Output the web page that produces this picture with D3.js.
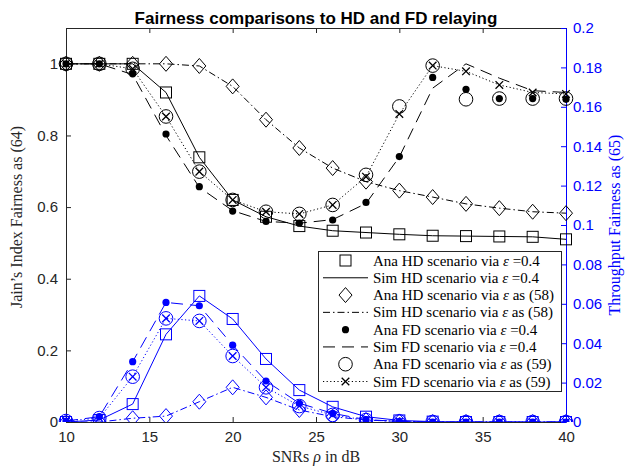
<!DOCTYPE html>
<html>
<head>
<meta charset="utf-8">
<script src="https://cdn.jsdelivr.net/npm/d3@7"></script>
<style>
  html, body { margin: 0; padding: 0; background: #fff; }
  svg { display: block; }
</style>
</head>
<body>
<svg id="chart" width="635" height="470"></svg>
<script>
// SNR grid (dB)
const snr = [10, 12, 14, 16, 18, 20, 22, 24, 26, 28, 30, 32, 34, 36, 38, 40];

// Jain's index fairness (left axis)
const jainHdAna04 = [1, 1, 1, 0.92, 0.739, 0.62, 0.573, 0.547, 0.534, 0.529, 0.524, 0.52, 0.519, 0.518, 0.517, 0.51];
const jainHdSim04 = [1, 1, 1, 0.92, 0.739, 0.62, 0.573, 0.547, 0.534, 0.529, 0.524, 0.52, 0.519, 0.518, 0.517, 0.51];
const jainHdAna58 = [1, 1, 1, 1, 0.994, 0.937, 0.844, 0.765, 0.709, 0.671, 0.646, 0.628, 0.609, 0.597, 0.587, 0.583];
const jainHdSim58 = [1, 1, 1, 1, 0.994, 0.937, 0.844, 0.765, 0.709, 0.671, 0.646, 0.628, 0.609, 0.597, 0.587, 0.583];
const jainFdAna04 = [1, 1, 0.972, 0.804, 0.657, 0.589, 0.56, 0.555, 0.564, 0.613, 0.741, 0.962, 0.929, 0.903, 0.903, 0.901];
const jainFdSim04 = [1, 1, 0.97, 0.8, 0.655, 0.59, 0.56, 0.555, 0.565, 0.61, 0.74, 0.932, 1.0, 0.96, 0.925, 0.92];
const jainFdAna59 = [1, 1, 0.986, 0.853, 0.699, 0.62, 0.587, 0.581, 0.606, 0.69, 0.881, 0.995, 0.901, 0.903, 0.903, 0.903];
const jainFdSim59 = [1, 1, 0.986, 0.853, 0.699, 0.62, 0.587, 0.581, 0.606, 0.685, 0.86, 0.995, 0.979, 0.941, 0.92, 0.916];

// Throughput fairness (right axis)
const thrHdAna04 = [0, 0.001, 0.0091, 0.0445, 0.064, 0.0523, 0.032, 0.0162, 0.0077, 0.0027, 0.0008, 0.0002, 0, 0, 0, 0];
const thrHdSim04 = [0, 0.001, 0.0091, 0.0445, 0.064, 0.0523, 0.032, 0.0162, 0.0077, 0.0027, 0.0008, 0.0002, 0, 0, 0, 0];
const thrHdAna58 = [0, 0, 0.0019, 0.003, 0.0103, 0.0176, 0.0125, 0.0061, 0.0027, 0.001, 0.0003, 0, 0, 0, 0, 0];
const thrHdSim58 = [0, 0, 0.0019, 0.003, 0.0103, 0.0176, 0.0125, 0.0061, 0.0027, 0.001, 0.0003, 0, 0, 0, 0, 0];
const thrFdAna04 = [0.0005, 0.0027, 0.0306, 0.0607, 0.059, 0.039, 0.0208, 0.0095, 0.0044, 0.0012, 0.0003, 0, 0, 0, 0, 0];
const thrFdSim04 = [0.0005, 0.0027, 0.0306, 0.0607, 0.059, 0.039, 0.0208, 0.0095, 0.0044, 0.0012, 0.0003, 0, 0, 0, 0, 0];
const thrFdAna59 = [0.0005, 0.002, 0.023, 0.0526, 0.0513, 0.0335, 0.0176, 0.0081, 0.0036, 0.001, 0.0003, 0, 0, 0, 0, 0];
const thrFdSim59 = [0.0005, 0.002, 0.023, 0.0526, 0.0513, 0.0335, 0.0176, 0.0081, 0.0036, 0.001, 0.0003, 0, 0, 0, 0, 0];

// Tick values
const xTicks = [10, 15, 20, 25, 30, 35, 40];
const yLeftTicks = [0, 0.2, 0.4, 0.6, 0.8, 1];
const yRightTicks = [0, 0.02, 0.04, 0.06, 0.08, 0.1, 0.12, 0.14, 0.16, 0.18, 0.2];

// Legend entries
const legendLabels = [
  "Ana HD scenario via \u03B5 =0.4",
  "Sim HD scenario via \u03B5 =0.4",
  "Ana HD scenario via \u03B5 as (58)",
  "Sim HD scenario via \u03B5 as (58)",
  "Ana FD scenario via \u03B5 =0.4",
  "Sim FD scenario via \u03B5 =0.4",
  "Ana FD scenario via \u03B5 as (59)",
  "Sim FD scenario via \u03B5 as (59)"
];

const BLUE = "#0000ff";
const INK = "#262626";
const DASH = "12,7";
const DASHDOT = "7,3,1.5,3";
const DOT = "1.2,2.4";

const svg = d3.select("#chart");
const L = 66, R = 566, T = 28, B = 422;

const x = d3.scaleLinear().domain([10, 40]).range([L, R]);
const yL = d3.scaleLinear().domain([0, 1.1]).range([B, T]);
const yR = d3.scaleLinear().domain([0, 0.2]).range([B, T]);

const fmt = d => String(+d.toFixed(2));

svg.append("defs").append("clipPath").attr("id", "clipBottom")
  .append("rect").attr("x", 0).attr("y", 0).attr("width", 635).attr("height", B);

// Title
svg.append("text")
  .attr("x", 316).attr("y", 24)
  .attr("text-anchor", "middle")
  .attr("font-family", "Liberation Sans, Arial, sans-serif")
  .attr("font-weight", "bold")
  .attr("font-size", 17)
  .attr("fill", "#000")
  .text("Fairness comparisons to HD and FD relaying");

// Axes
const tickFont = g => g.selectAll("text")
  .attr("font-family", "Liberation Sans, Arial, sans-serif")
  .attr("font-size", 15);

const gx = svg.append("g").attr("transform", `translate(0,${B})`)
  .call(d3.axisBottom(x).tickValues(xTicks).tickSize(-5).tickPadding(9).tickSizeOuter(0));
gx.call(tickFont);
gx.selectAll("text").attr("fill", INK);
gx.selectAll("line").attr("stroke", INK);
gx.select(".domain").attr("stroke", INK);

const gxTop = svg.append("g").attr("transform", `translate(0,${T})`)
  .call(d3.axisTop(x).tickValues(xTicks).tickSize(-5).tickFormat("").tickSizeOuter(0));
gxTop.selectAll("line").attr("stroke", INK);
gxTop.select(".domain").attr("stroke", INK);

const gyL = svg.append("g").attr("transform", `translate(${L},0)`)
  .call(d3.axisLeft(yL).tickValues(yLeftTicks).tickFormat(fmt).tickSize(-5).tickPadding(8).tickSizeOuter(0));
gyL.call(tickFont);
gyL.selectAll("text").attr("fill", INK);
gyL.selectAll("line").attr("stroke", INK);
gyL.select(".domain").attr("stroke", INK);

const gyR = svg.append("g").attr("transform", `translate(${R},0)`)
  .call(d3.axisRight(yR).tickValues(yRightTicks).tickFormat(fmt).tickSize(-5).tickPadding(7).tickSizeOuter(0));
gyR.call(tickFont);
gyR.selectAll("text").attr("fill", BLUE);
gyR.selectAll("line").attr("stroke", BLUE);
gyR.select(".domain").attr("stroke", BLUE);

// Axis labels
svg.append("text")
  .attr("transform", `translate(22,${(T + B) / 2 - 8}) rotate(-90)`)
  .attr("text-anchor", "middle")
  .attr("font-family", "Liberation Serif, Times New Roman, serif")
  .attr("font-size", 16)
  .attr("fill", INK)
  .text("Jain\u2019s Index Fairness as (64)");

svg.append("text")
  .attr("transform", `translate(620,${(T + B) / 2}) rotate(-90)`)
  .attr("text-anchor", "middle")
  .attr("font-family", "Liberation Serif, Times New Roman, serif")
  .attr("font-size", 16)
  .attr("fill", BLUE)
  .text("Throughput Fairness as (65)");

const xl = svg.append("text")
  .attr("x", 316).attr("y", 462)
  .attr("text-anchor", "middle")
  .attr("font-family", "Liberation Serif, Times New Roman, serif")
  .attr("font-size", 16)
  .attr("fill", INK);
xl.append("tspan").text("SNRs ");
xl.append("tspan").attr("font-style", "italic").text("\u03C1");
xl.append("tspan").text(" in dB");

// Marker painters
function drawMarker(g, kind, cx, cy, color) {
  if (kind === "square") {
    g.append("rect").attr("x", cx - 5.5).attr("y", cy - 5.5).attr("width", 11).attr("height", 11)
      .attr("fill", "none").attr("stroke", color).attr("stroke-width", 1);
  } else if (kind === "diamond") {
    g.append("path").attr("d", `M${cx},${cy - 7.5}L${cx + 6.5},${cy}L${cx},${cy + 7.5}L${cx - 6.5},${cy}Z`)
      .attr("fill", "none").attr("stroke", color).attr("stroke-width", 1);
  } else if (kind === "dot") {
    g.append("circle").attr("cx", cx).attr("cy", cy).attr("r", 3.6).attr("fill", color);
  } else if (kind === "circle") {
    g.append("circle").attr("cx", cx).attr("cy", cy).attr("r", 6.8)
      .attr("fill", "none").attr("stroke", color).attr("stroke-width", 1);
  } else if (kind === "cross") {
    const s = 3.8;
    g.append("path").attr("d", `M${cx - s},${cy - s}L${cx + s},${cy + s}M${cx - s},${cy + s}L${cx + s},${cy - s}`)
      .attr("stroke", color).attr("stroke-width", 1.3).attr("fill", "none");
  }
}

function series(values, yScale, color, opts) {
  const g = svg.append("g");
  if (opts.clip) g.attr("clip-path", "url(#clipBottom)");
  const pts = snr.map((s, i) => [x(s), yScale(values[i])]);
  if (opts.dash !== undefined) {
    g.append("path")
      .attr("d", d3.line()(pts))
      .attr("fill", "none").attr("stroke", color).attr("stroke-width", 1)
      .attr("stroke-dasharray", opts.dash || null);
  }
  if (opts.marker) pts.forEach(p => drawMarker(g, opts.marker, p[0], p[1], color));
}

// Jain's index curves (black, left axis)
series(jainHdAna04, yL, "#000", { marker: "square" });
series(jainHdSim04, yL, "#000", { dash: "" });
series(jainHdAna58, yL, "#000", { marker: "diamond" });
series(jainHdSim58, yL, "#000", { dash: DASHDOT });
series(jainFdAna04, yL, "#000", { marker: "dot" });
series(jainFdSim04, yL, "#000", { dash: DASH });
series(jainFdAna59, yL, "#000", { marker: "circle" });
series(jainFdSim59, yL, "#000", { dash: DOT, marker: "cross" });

// Throughput fairness curves (blue, right axis)
series(thrHdAna04, yR, BLUE, { marker: "square", clip: true });
series(thrHdSim04, yR, BLUE, { dash: "", clip: true });
series(thrHdAna58, yR, BLUE, { marker: "diamond", clip: true });
series(thrHdSim58, yR, BLUE, { dash: DASHDOT, clip: true });
series(thrFdAna04, yR, BLUE, { marker: "dot", clip: true });
series(thrFdSim04, yR, BLUE, { dash: DASH, clip: true });
series(thrFdAna59, yR, BLUE, { marker: "circle", clip: true });
series(thrFdSim59, yR, BLUE, { dash: DOT, marker: "cross", clip: true });

// Legend
const legendStyles = [
  { marker: "square" },
  { dash: "" },
  { marker: "diamond" },
  { dash: DASHDOT },
  { marker: "dot" },
  { dash: DASH },
  { marker: "circle" },
  { dash: DOT, marker: "cross" }
];
const lg = svg.append("g");
lg.append("rect").attr("x", 318.5).attr("y", 251.5).attr("width", 243).attr("height", 140)
  .attr("fill", "#fff").attr("stroke", INK).attr("stroke-width", 1);
const rowY = d3.scaleLinear().domain([0, 7]).range([260.5, 381.5]);
legendLabels.forEach((label, i) => {
  const cy = rowY(i);
  const st = legendStyles[i];
  if (st.dash !== undefined) {
    lg.append("line").attr("x1", 323).attr("x2", 368).attr("y1", cy).attr("y2", cy)
      .attr("stroke", "#000").attr("stroke-width", 1).attr("stroke-dasharray", st.dash || null);
  }
  if (st.marker) drawMarker(lg, st.marker, 345.5, cy, "#000");
  const t = lg.append("text").attr("x", 373).attr("y", cy + 5)
    .attr("font-family", "Liberation Serif, Times New Roman, serif")
    .attr("font-size", 15).attr("fill", "#000");
  const parts = label.split("\u03B5");
  t.append("tspan").text(parts[0]);
  t.append("tspan").attr("font-style", "italic").text("\u03B5");
  t.append("tspan").text(parts[1]);
});
</script>
</body>
</html>
